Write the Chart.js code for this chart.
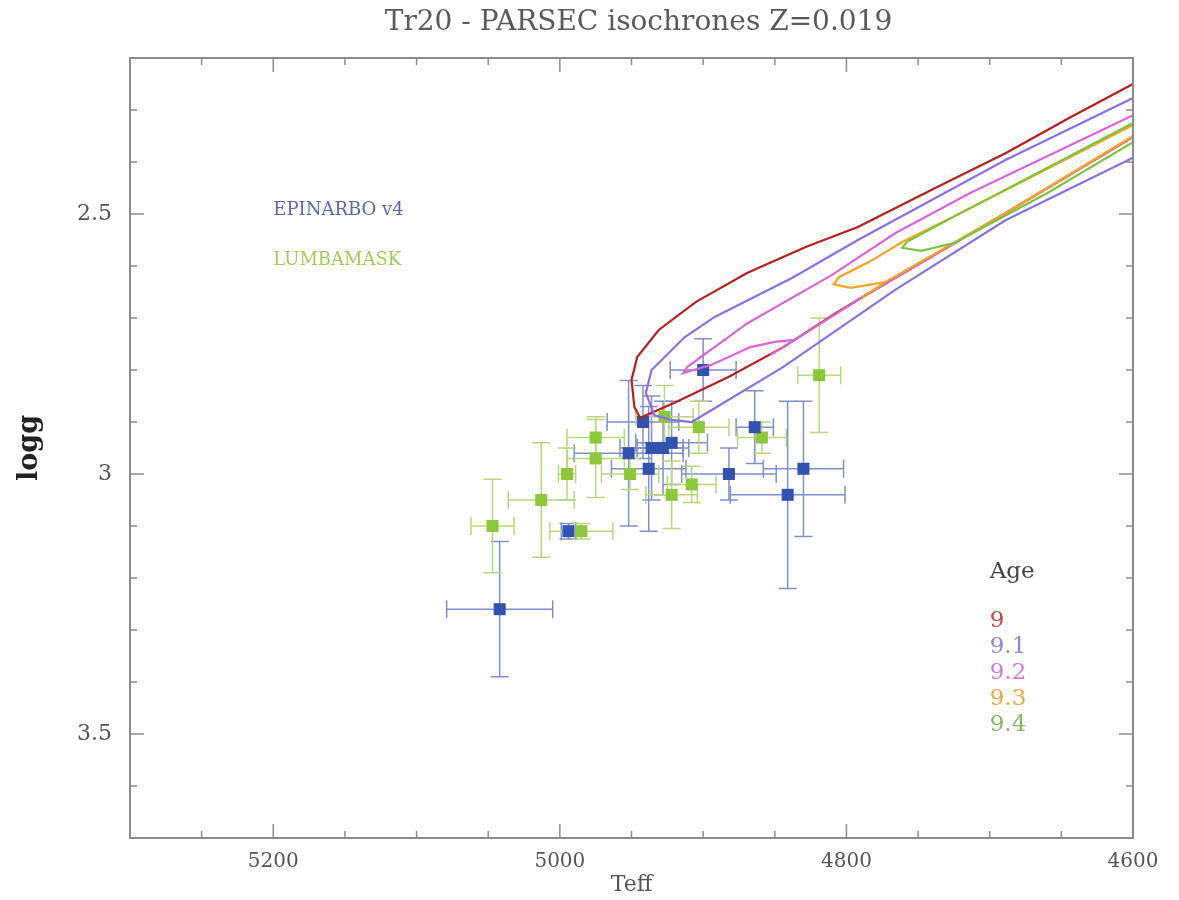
<!DOCTYPE html>
<html>
<head>
<meta charset="utf-8">
<title>Tr20 - PARSEC isochrones</title>
<script src="https://cdn.jsdelivr.net/npm/chart.js@4.4.1/dist/chart.umd.min.js"></script>
<style>
  html, body { margin: 0; padding: 0; background: #fff; }
  #wrap { width: 1179px; height: 900px; }
</style>
</head>
<body>
<div id="wrap"><canvas id="isoChart" width="1179" height="900"></canvas></div>
<script>
// ---- axis tick labels ----
const teffTicks = [5200, 5000, 4800, 4600];
const loggTicks = [2.5, 3, 3.5];

// ---- EPINARBO v4 stars (Teff, logg and errors) ----
const epiTeff    = [5042, 4942, 4952, 4936, 4928, 4922, 4938, 4900, 4994, 4864, 4882, 4830, 4841];
const epiLogg    = [3.26, 2.90, 2.96, 2.95, 2.95, 2.94, 2.99, 2.80, 3.11, 2.91, 3.00, 2.99, 3.04];
const epiErrTeff = [37, 25, 38, 22, 18, 25, 26, 23, 5, 13, 33, 28, 40];
const epiErrLogg = [0.13, 0.07, 0.14, 0.10, 0.09, 0.08, 0.12, 0.06, 0.015, 0.07, 0.05, 0.13, 0.18];

// ---- LUMBAMASK stars ----
const lumTeff    = [4927, 4903, 4975, 4975, 4951, 4995, 5013, 5047, 4985, 4922, 4908, 4819, 4859];
const lumLogg    = [2.89, 2.91, 2.93, 2.97, 3.00, 3.00, 3.05, 3.10, 3.11, 3.04, 3.02, 2.81, 2.93];
const lumErrTeff = [20, 21, 20, 20, 20, 6, 23, 15, 22, 18, 17, 15, 17];
const lumErrLogg = [0.06, 0.05, 0.04, 0.075, 0.03, 0.05, 0.11, 0.09, 0.015, 0.065, 0.035, 0.11, 0.03];

// ---- PARSEC isochrones, log(age) labels; null = break in the line ----
const ages = ['9', '9.1', '9.2', '9.3', '9.4'];
const ageColors = ['#b3201f', '#8b70e4', '#d866d8', '#f5a424', '#7ec43e'];
const ageTextColors = ['#c0484a', '#8c86e6', '#d47ad6', '#f2a838', '#88b860'];

const iso90Teff = [4600, 4690, 4789, 4807, 4844, 4882, 4920, 4944, 4948, 4950, 4946, 4931, 4905, 4869, 4828, 4792, 4738, 4689, 4643, 4600];
const iso90Logg = [2.352, 2.50, 2.660, 2.690, 2.756, 2.813, 2.863, 2.892, 2.871, 2.819, 2.775, 2.723, 2.669, 2.613, 2.563, 2.525, 2.45, 2.383, 2.313, 2.25];

const iso91Teff = [4600, 4689, 4766, 4844, 4908, 4922, 4934, 4940, 4936, 4913, 4892, 4838, 4792, 4689, 4600];
const iso91Logg = [2.392, 2.512, 2.646, 2.794, 2.900, 2.896, 2.887, 2.844, 2.800, 2.737, 2.698, 2.623, 2.550, 2.396, 2.277];

const iso92Teff = [4600, 4690, 4789, 4836, 4853, null, 4836, 4850, 4867, 4894, 4914, 4911, 4869, 4810, 4766, 4714, 4600];
const iso92Logg = [2.352, 2.50, 2.660, 2.742, 2.771, null, 2.742, 2.746, 2.756, 2.790, 2.806, 2.794, 2.710, 2.617, 2.537, 2.460, 2.310];

const iso93Teff = [4789, 4773, 4690, 4600, null, 4773, 4797, 4809, 4805, 4784, 4761, 4725, 4600];
const iso93Logg = [2.660, 2.631, 2.50, 2.350, null, 2.631, 2.642, 2.635, 2.621, 2.592, 2.554, 2.505, 2.329];

const iso94Teff = [4600, 4660, 4725, 4748, 4761, 4758, 4725, 4600];
const iso94Logg = [2.362, 2.46, 2.556, 2.571, 2.565, 2.554, 2.505, 2.325];

const isoTeff = [iso90Teff, iso91Teff, iso92Teff, iso93Teff, iso94Teff];
const isoLogg = [iso90Logg, iso91Logg, iso92Logg, iso93Logg, iso94Logg];

const blueMark = '#3152b0';
const greenMark = '#8cc83a';
const blueBar = '#8090cc';
const greenBar = '#b8d87c';
const serif = '"DejaVu Serif", "Liberation Serif", serif';

const toPoints = (xs, ys) => xs.map((v, i) => ({ x: v, y: ys[i] }));

// isochrones first so they sit on top of the stars (9.4 drawn last)
const datasets = [];
for (let i = ages.length - 1; i >= 0; i--) {
    datasets.push({
        label: 'Age ' + ages[i],
        type: 'line',
        data: toPoints(isoTeff[i], isoLogg[i]),
        borderColor: ageColors[i],
        borderWidth: 2.2,
        pointRadius: 0,
        tension: 0,
        spanGaps: false,
        fill: false
    });
}
datasets.push({
    label: 'EPINARBO v4',
    type: 'scatter',
    data: toPoints(epiTeff, epiLogg),
    errTeff: epiErrTeff,
    errLogg: epiErrLogg,
    barColor: blueBar,
    pointStyle: 'rect',
    pointRadius: 8.5,
    backgroundColor: blueMark,
    borderColor: blueMark,
    borderWidth: 0
});
datasets.push({
    label: 'LUMBAMASK',
    type: 'scatter',
    data: toPoints(lumTeff, lumLogg),
    errTeff: lumErrTeff,
    errLogg: lumErrLogg,
    barColor: greenBar,
    pointStyle: 'rect',
    pointRadius: 8.5,
    backgroundColor: greenMark,
    borderColor: greenMark,
    borderWidth: 0
});

// error bars with caps, drawn below the squares
const errorBars = {
    id: 'errorBars',
    beforeDatasetsDraw(chart) {
        const { ctx, chartArea: a, scales: { x, y } } = chart;
        const cap = 9;
        ctx.save();
        ctx.beginPath();
        ctx.rect(a.left, a.top, a.right - a.left, a.bottom - a.top);
        ctx.clip();
        ctx.lineWidth = 1.5;
        chart.data.datasets.forEach(ds => {
            if (!ds.errTeff) return;
            ctx.strokeStyle = ds.barColor;
            ds.data.forEach((p, i) => {
                const px = x.getPixelForValue(p.x);
                const py = y.getPixelForValue(p.y);
                const x1 = x.getPixelForValue(p.x - ds.errTeff[i]);
                const x2 = x.getPixelForValue(p.x + ds.errTeff[i]);
                const y1 = y.getPixelForValue(p.y - ds.errLogg[i]);
                const y2 = y.getPixelForValue(p.y + ds.errLogg[i]);
                ctx.beginPath();
                ctx.moveTo(x1, py); ctx.lineTo(x2, py);
                ctx.moveTo(x1, py - cap); ctx.lineTo(x1, py + cap);
                ctx.moveTo(x2, py - cap); ctx.lineTo(x2, py + cap);
                ctx.moveTo(px, y1); ctx.lineTo(px, y2);
                ctx.moveTo(px - cap, y1); ctx.lineTo(px + cap, y1);
                ctx.moveTo(px - cap, y2); ctx.lineTo(px + cap, y2);
                ctx.stroke();
            });
        });
        ctx.restore();
    }
};

// box frame with inward ticks on all four sides, title and the text labels
const frameAndText = {
    id: 'frameAndText',
    afterDraw(chart) {
        const { ctx, chartArea: a, scales: { x, y } } = chart;
        ctx.save();
        ctx.strokeStyle = '#8c8c8c';
        ctx.lineWidth = 1.5;
        ctx.beginPath();
        for (let k = 93; k <= 105; k++) {
            const px = x.getPixelForValue(k * 50);
            const len = (k * 50) % 200 === 0 ? 14 : 7;
            ctx.moveTo(px, a.bottom); ctx.lineTo(px, a.bottom - len);
            ctx.moveTo(px, a.top); ctx.lineTo(px, a.top + len);
        }
        for (let k = 23; k <= 36; k++) {
            const py = y.getPixelForValue(k / 10);
            const len = k % 5 === 0 ? 14 : 7;
            ctx.moveTo(a.left, py); ctx.lineTo(a.left + len, py);
            ctx.moveTo(a.right, py); ctx.lineTo(a.right - len, py);
        }
        ctx.stroke();
        ctx.lineWidth = 2;
        ctx.strokeRect(a.left, a.top, a.right - a.left, a.bottom - a.top);

        // title, centred over the plot box
        ctx.textAlign = 'center';
        ctx.textBaseline = 'middle';
        ctx.font = '28px ' + serif;
        ctx.fillStyle = '#5a5a5a';
        ctx.fillText('Tr20 - PARSEC isochrones Z=0.019', (a.left + a.right) / 2 + 7, 23);

        // method labels
        ctx.textAlign = 'left';
        ctx.font = '18px ' + serif;
        ctx.fillStyle = '#5a68b4';
        ctx.fillText('EPINARBO v4', x.getPixelForValue(5200), y.getPixelForValue(2.492));
        ctx.fillStyle = '#a2cc58';
        ctx.fillText('LUMBAMASK', x.getPixelForValue(5200), y.getPixelForValue(2.59));

        // age key
        ctx.font = '23px ' + serif;
        ctx.fillStyle = '#444';
        ctx.fillText('Age', x.getPixelForValue(4700), y.getPixelForValue(3.188));
        ages.forEach((age, i) => {
            ctx.fillStyle = ageTextColors[i];
            ctx.fillText(age, x.getPixelForValue(4700), y.getPixelForValue(3.283 + i * 0.05));
        });
        ctx.restore();
    }
};

const chart = new Chart(document.getElementById('isoChart').getContext('2d'), {
    type: 'scatter',
    data: { datasets: datasets },
    options: {
        responsive: false,
        animation: false,
        layout: { padding: { left: 0, right: 46, top: 58, bottom: 0 } },
        scales: {
            x: {
                type: 'linear',
                reverse: true,
                min: 4600,
                max: 5300,
                grid: { display: false, drawTicks: false },
                border: { display: false },
                afterBuildTicks: s => { s.ticks = teffTicks.map(v => ({ value: v })); },
                afterFit: s => { s.height = 62; },
                ticks: {
                    color: '#555',
                    font: { family: serif, size: 20 },
                    padding: 12,
                    maxRotation: 0,
                    autoSkip: false,
                    callback: v => String(v)
                },
                title: {
                    display: true,
                    text: 'Teff',
                    color: '#555',
                    font: { family: serif, size: 22 },
                    padding: { top: 0, bottom: 2 }
                }
            },
            y: {
                type: 'linear',
                reverse: true,
                min: 2.2,
                max: 3.7,
                grid: { display: false, drawTicks: false },
                border: { display: false },
                afterBuildTicks: s => { s.ticks = loggTicks.map(v => ({ value: v })); },
                afterFit: s => { s.width = 130; },
                ticks: {
                    color: '#555',
                    font: { family: serif, size: 22 },
                    padding: 18,
                    autoSkip: false,
                    callback: v => String(v)
                },
                title: {
                    display: true,
                    text: 'logg',
                    color: '#222',
                    font: { family: serif, size: 27, weight: 'bold' },
                    padding: { top: 14, bottom: 0 }
                }
            }
        },
        plugins: {
            legend: { display: false },
            tooltip: { enabled: false },
            title: { display: false }
        }
    },
    plugins: [errorBars, frameAndText]
});
</script>
</body>
</html>
